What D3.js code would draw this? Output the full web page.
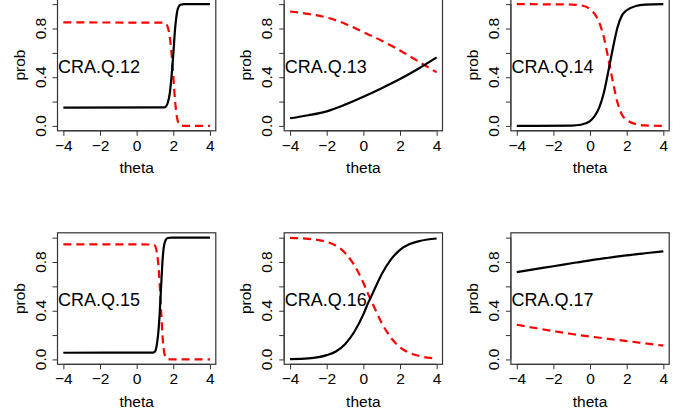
<!DOCTYPE html>
<html>
<head>
<meta charset="utf-8">
<script src="https://cdn.jsdelivr.net/npm/d3@7"></script>
<style>
  body { margin: 0; background: #fff; }
  text { font-family: "Liberation Sans", Arial, Helvetica, sans-serif; }
</style>
</head>
<body>
<div class="plots"></div>
<script>
/* globals d3 */

const items = ["CRA.Q.12", "CRA.Q.13", "CRA.Q.14", "CRA.Q.15", "CRA.Q.16", "CRA.Q.17"];

const xTicks = [-4, -2, 0, 2, 4];
const yTicks = [0, 0.2, 0.4, 0.6, 0.8, 1.0];
const yLabels = [0, 0.4, 0.8];

// theta points and probabilities (black = correct, red = incorrect)
const q12Theta = [-4, 1.5, 1.6, 1.7, 1.8, 1.9, 2.0, 2.1, 2.2, 2.3, 2.4, 2.6, 4];
const q12Right = [0.15, 0.152, 0.16, 0.19, 0.26, 0.40, 0.59, 0.80, 0.93, 0.98, 0.995, 1.0, 1.0];
const q12Wrong = [0.85, 0.848, 0.84, 0.81, 0.74, 0.60, 0.41, 0.20, 0.07, 0.02, 0.005, 0, 0];

const q13Theta = [-4, -3, -2, -1, 0, 1, 2, 3, 4];
const q13Right = [0.063, 0.088, 0.12, 0.175, 0.24, 0.31, 0.385, 0.47, 0.563];
const q13Wrong = [0.94, 0.92, 0.89, 0.84, 0.77, 0.70, 0.62, 0.53, 0.44];

const q14Theta = [-4, -1, -0.5, 0, 0.25, 0.5, 0.75, 1.0, 1.25, 1.5, 1.75, 2, 2.5, 3, 4];
const q14Right = [0, 0.003, 0.01, 0.04, 0.08, 0.15, 0.27, 0.45, 0.64, 0.81, 0.91, 0.95, 0.985, 0.996, 1.0];
const q14Wrong = [1.0, 0.997, 0.99, 0.96, 0.92, 0.85, 0.73, 0.55, 0.36, 0.19, 0.09, 0.05, 0.015, 0.004, 0];

const q15Theta = [-4, 0.9, 1.0, 1.1, 1.2, 1.25, 1.3, 1.35, 1.4, 1.45, 1.5, 1.6, 1.7, 1.9, 4];
const q15Right = [0.055, 0.056, 0.065, 0.12, 0.25, 0.36, 0.5, 0.64, 0.78, 0.88, 0.94, 0.985, 0.997, 1, 1];
const q15Wrong = [0.945, 0.944, 0.935, 0.88, 0.75, 0.64, 0.5, 0.36, 0.22, 0.12, 0.06, 0.015, 0.003, 0, 0];

const q16Theta = [-4, -3, -2, -1.5, -1, -0.5, 0, 0.25, 0.5, 1, 1.5, 2, 2.5, 3, 3.5, 4];
const q16Right = [0.002, 0.008, 0.035, 0.065, 0.125, 0.225, 0.37, 0.46, 0.54, 0.70, 0.82, 0.90, 0.945, 0.97, 0.985, 0.993];
const q16Wrong = [0.998, 0.99, 0.965, 0.935, 0.875, 0.775, 0.63, 0.54, 0.46, 0.30, 0.18, 0.10, 0.055, 0.03, 0.015, 0.007];

const q17Theta = [-4, -3, -2, -1, 0, 1, 2, 3, 4];
const q17Right = [0.717, 0.742, 0.765, 0.79, 0.814, 0.835, 0.855, 0.872, 0.888];
const q17Wrong = [0.285, 0.258, 0.233, 0.209, 0.188, 0.169, 0.151, 0.132, 0.113];

const thetas = [q12Theta, q13Theta, q14Theta, q15Theta, q16Theta, q17Theta];
const rights = [q12Right, q13Right, q14Right, q15Right, q16Right, q17Right];
const wrongs = [q12Wrong, q13Wrong, q14Wrong, q15Wrong, q16Wrong, q17Wrong];

const width = 683;
const height = 414;
const colLeft = [57.5, 284.2, 510.9];
const rowTop = [-0.7, 232.8];
const boxW = 158.3;
const boxH = 131.5;
const fs = 15.5;

const svg = d3.select(".plots")
  .append("svg")
  .attr("width", width)
  .attr("height", height);

items.forEach(function(name, i) {
  const left = colLeft[i % 3];
  const top = rowTop[Math.floor(i / 3)];

  const x = d3.scaleLinear().domain([-4.32, 4.32]).range([left, left + boxW]);
  const y = d3.scaleLinear().domain([-0.04, 1.04]).range([top + boxH, top]);

  const g = svg.append("g");

  // frame
  g.append("rect")
    .attr("x", left)
    .attr("y", top)
    .attr("width", boxW)
    .attr("height", boxH)
    .attr("fill", "none")
    .attr("stroke", "#333")
    .attr("stroke-width", 1.2);

  // x axis
  const xAxis = g.append("g")
    .attr("transform", "translate(0," + (top + boxH) + ")")
    .call(d3.axisBottom(x).tickValues(xTicks).tickSize(5).tickSizeOuter(0)
      .tickFormat(d => d3.format("")(d).replace("-", "\u2212")));
  xAxis.select(".domain")
    .attr("d", "M" + x(-4) + ",0H" + x(4))
    .attr("stroke", "#333");
  xAxis.selectAll(".tick line").attr("stroke", "#333");
  xAxis.selectAll(".tick text")
    .attr("y", 20)
    .attr("dy", null)
    .attr("font-size", fs)
    .attr("fill", "#000");

  // y axis
  const yAxis = g.append("g")
    .attr("transform", "translate(" + left + ",0)")
    .call(d3.axisLeft(y).tickValues(yTicks).tickSize(5).tickSizeOuter(0).tickFormat(() => ""));
  yAxis.select(".domain")
    .attr("d", "M0," + y(0) + "V" + y(1))
    .attr("stroke", "#333");
  yAxis.selectAll(".tick line").attr("stroke", "#333");

  g.selectAll(".ylab")
    .data(yLabels)
    .enter()
    .append("text")
    .attr("class", "ylab")
    .attr("transform", d => "translate(" + (left - 11.8) + "," + y(d) + ") rotate(-90)")
    .attr("text-anchor", "middle")
    .attr("font-size", fs)
    .text(d => d3.format(".1f")(d));

  // axis titles
  g.append("text")
    .attr("x", left + boxW / 2)
    .attr("y", top + boxH + 42.4)
    .attr("text-anchor", "middle")
    .attr("font-size", fs)
    .text("theta");

  g.append("text")
    .attr("transform", "translate(" + (left - 32.9) + "," + (top + boxH / 2) + ") rotate(-90)")
    .attr("text-anchor", "middle")
    .attr("font-size", fs)
    .text("prob");

  const line = d3.line()
    .x(d => x(d[0]))
    .y(d => y(d[1]))
    .curve(d3.curveMonotoneX);

  const th = thetas[i];

  g.append("path")
    .datum(th.map((t, k) => [t, wrongs[i][k]]))
    .attr("d", line)
    .attr("fill", "none")
    .attr("stroke", "#ff0000")
    .attr("stroke-width", 2.2)
    .attr("stroke-dasharray", "8,5");

  g.append("path")
    .datum(th.map((t, k) => [t, rights[i][k]]))
    .attr("d", line)
    .attr("fill", "none")
    .attr("stroke", "#000")
    .attr("stroke-width", 2.2);

  // item label
  g.append("text")
    .attr("x", left + 0.5)
    .attr("y", y(0.5) + 7.6)
    .attr("font-size", 18)
    .text(name);
});
</script>
</body>
</html>
